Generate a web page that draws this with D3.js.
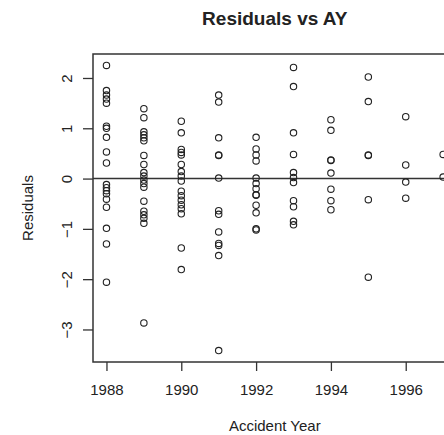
<!DOCTYPE html>
<html>
<head>
<meta charset="utf-8">
<script src="https://cdn.jsdelivr.net/npm/d3@7/dist/d3.min.js"></script>
<style>
  html, body { margin: 0; padding: 0; background: #fff; overflow: hidden; }
  svg { display: block; font-family: "Liberation Sans", Arial, Helvetica, sans-serif; }
</style>
</head>
<body>
<svg id="chart" width="444" height="435"></svg>
<script>
// Accident years and the residuals observed for each of them
const years = [1988, 1989, 1990, 1991, 1992, 1993, 1994, 1995, 1996, 1997];

const res1988 = [2.25, 1.75, 1.66, 1.58, 1.50, 1.04, 1.00, 0.82, 0.53, 0.31,
                 -0.12, -0.18, -0.24, -0.30, -0.41, -0.57, -0.99, -1.30, -2.06];
const res1989 = [1.39, 1.21, 0.93, 0.87, 0.81, 0.75, 0.46, 0.28, 0.12, 0.05,
                 -0.03, -0.10, -0.17, -0.45, -0.65, -0.72, -0.79, -0.89, -2.87];
const res1990 = [1.14, 0.91, 0.58, 0.52, 0.47, 0.28, 0.14, 0.05, -0.05,
                 -0.25, -0.34, -0.43, -0.52, -0.60, -0.70, -1.38, -1.81];
const res1991 = [1.66, 1.52, 0.81, 0.47, 0.46, 0.01, -0.64, -0.71,
                 -1.06, -1.29, -1.33, -1.53, -3.42];
const res1992 = [0.82, 0.59, 0.47, 0.35, 0.01, -0.10, -0.20, -0.32, -0.33,
                 -0.53, -0.68, -1.00, -1.02];
const res1993 = [2.21, 1.83, 0.91, 0.48, 0.12, 0.02, -0.08, -0.44, -0.56, -0.85, -0.92];
const res1994 = [1.17, 0.96, 0.37, 0.36, 0.11, -0.21, -0.44, -0.62];
const res1995 = [2.02, 1.53, 0.47, 0.46, -0.42, -1.96];
const res1996 = [1.23, 0.27, -0.07, -0.39];
const res1997 = [0.48, 0.03];

const residualsByYear = [res1988, res1989, res1990, res1991, res1992,
                         res1993, res1994, res1995, res1996, res1997];

const xTickValues = [1988, 1990, 1992, 1994, 1996];
const yTickValues = [-3, -2, -1, 0, 1, 2];

const titleText = "Residuals vs AY";
const xLabel = "Accident Year";
const yLabel = "Residuals";

// Flatten into (year, residual) pairs
const points = [];
years.forEach((yr, i) => residualsByYear[i].forEach(v => points.push({ year: yr, value: v })));

// Plot region (extends past the right edge of the canvas)
const plot = { left: 93, right: 456.6, top: 54, bottom: 362 };

// Axis limits padded by 4% on each side
function padded(ext) {
  const d = (ext[1] - ext[0]) * 0.04;
  return [ext[0] - d, ext[1] + d];
}

const x = d3.scaleLinear()
  .domain(padded(d3.extent(years)))
  .range([plot.left, plot.right]);

const y = d3.scaleLinear()
  .domain(padded(d3.extent(points, d => d.value)))
  .range([plot.bottom, plot.top]);

const svg = d3.select("#chart");
const ink = "#222";

// Clip for marks inside the plot region
svg.append("defs").append("clipPath").attr("id", "plot-clip")
  .append("rect")
  .attr("x", plot.left).attr("y", plot.top)
  .attr("width", plot.right - plot.left).attr("height", plot.bottom - plot.top);

// Horizontal reference line at zero
svg.append("line")
  .attr("clip-path", "url(#plot-clip)")
  .attr("x1", plot.left).attr("x2", plot.right)
  .attr("y1", y(0)).attr("y2", y(0))
  .attr("stroke", "#333").attr("stroke-width", 1.5);

// Residual points as open circles
svg.append("g")
  .selectAll("circle")
  .data(points)
  .join("circle")
  .attr("cx", d => x(d.year))
  .attr("cy", d => y(d.value))
  .attr("r", 3.2)
  .attr("fill", "none")
  .attr("stroke", ink)
  .attr("stroke-width", 1.1);

// Plot frame
svg.append("rect")
  .attr("x", plot.left).attr("y", plot.top)
  .attr("width", plot.right - plot.left).attr("height", plot.bottom - plot.top)
  .attr("fill", "none")
  .attr("stroke", "#333").attr("stroke-width", 1.5);

// Bottom axis
const gx = svg.append("g")
  .attr("transform", `translate(0,${plot.bottom})`)
  .call(d3.axisBottom(x).tickValues(xTickValues).tickFormat(d3.format("d"))
    .tickSize(9).tickPadding(13));
gx.select(".domain").remove();
gx.selectAll(".tick line").attr("stroke", "#333").attr("stroke-width", 1.3);
gx.selectAll(".tick text").attr("fill", ink).style("font-size", "15px");

// Left axis with labels turned parallel to the axis
const gy = svg.append("g")
  .attr("transform", `translate(${plot.left},0)`)
  .call(d3.axisLeft(y).tickValues(yTickValues).tickFormat(d3.format("d")).tickSize(10));
gy.select(".domain").remove();
gy.selectAll(".tick line").attr("stroke", "#333").attr("stroke-width", 1.3);
gy.selectAll(".tick text")
  .attr("x", null).attr("dy", null)
  .attr("text-anchor", "middle")
  .attr("transform", "translate(-21,0) rotate(-90)")
  .attr("fill", ink)
  .style("font-size", "15px")
  .text(d => d < 0 ? "\u2212" + Math.abs(d) : String(d));

// Title and axis labels
const cx = (plot.left + plot.right) / 2;
svg.append("text")
  .attr("x", cx).attr("y", 25)
  .attr("text-anchor", "middle")
  .attr("font-weight", "bold")
  .attr("font-size", 19)
  .attr("fill", ink)
  .text(titleText);

svg.append("text")
  .attr("x", cx).attr("y", 431)
  .attr("text-anchor", "middle")
  .attr("font-size", 15)
  .attr("fill", ink)
  .text(xLabel);

svg.append("text")
  .attr("transform", `translate(33,${(plot.top + plot.bottom) / 2}) rotate(-90)`)
  .attr("text-anchor", "middle")
  .attr("font-size", 15)
  .attr("fill", ink)
  .text(yLabel);
</script>
</body>
</html>
